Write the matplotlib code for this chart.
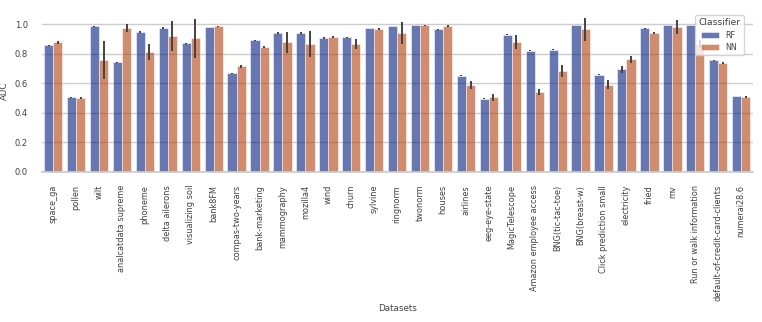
import matplotlib
matplotlib.use("Agg")
import matplotlib.pyplot as plt
import seaborn as sns
import numpy as np

# Datasets y AUC medio por clasificador
datasets = ["space_ga", "pollen", "wilt", "analcatdata supreme", "phoneme",
            "delta ailerons", "visualizing soil", "bank8FM", "compas-two-years",
            "bank-marketing", "mammography", "mozilla4", "wind", "churn", "sylvine",
            "ringnorm", "twonorm", "houses", "airlines", "eeg-eye-state",
            "MagicTelescope", "Amazon employee access", "BNG(tic-tac-toe)",
            "BNG(breast-w)", "Click prediction small", "electricity", "fried", "mv",
            "Run or walk information", "default-of-credit-card-clients", "numerai28.6"]

rf_auc = [0.858, 0.505, 0.986, 0.742, 0.948, 0.975, 0.871, 0.982, 0.667, 0.892,
          0.939, 0.941, 0.909, 0.912, 0.975, 0.988, 0.995, 0.966, 0.651, 0.495,
          0.929, 0.821, 0.828, 0.995, 0.658, 0.695, 0.973, 0.995, 0.995, 0.756, 0.514]
rf_err = [0.004, 0.004, 0.004, 0.004, 0.004, 0.004, 0.005, 0.002, 0.005, 0.004,
          0.006, 0.006, 0.008, 0.004, 0.003, 0.002, 0.002, 0.002, 0.004, 0.004,
          0.002, 0.003, 0.002, 0.002, 0.004, 0.022, 0.003, 0.002, 0.002, 0.004, 0.003]

nn_auc = [0.878, 0.498, 0.758, 0.977, 0.814, 0.921, 0.905, 0.986, 0.717, 0.846,
          0.878, 0.864, 0.914, 0.866, 0.968, 0.943, 0.993, 0.986, 0.586, 0.505,
          0.880, 0.541, 0.683, 0.966, 0.590, 0.763, 0.941, 0.980, 0.866, 0.737, 0.509]
nn_err = [0.012, 0.006, 0.131, 0.027, 0.054, 0.099, 0.133, 0.005, 0.010, 0.008,
          0.072, 0.089, 0.010, 0.032, 0.005, 0.075, 0.004, 0.007, 0.027, 0.023,
          0.046, 0.022, 0.042, 0.080, 0.030, 0.025, 0.008, 0.048, 0.030, 0.008, 0.006]

sns.set_theme(style="whitegrid")
pal = sns.color_palette("dark", 2)

fig = plt.figure(figsize=(7.62, 3.22), dpi=100)
ax = fig.add_axes([0.0547, 0.4668, 0.9330, 0.5034])

x = np.arange(len(datasets))
w = 0.4
ax.bar(x - w / 2, rf_auc, width=w, color=pal[0], alpha=0.6, edgecolor="w",
       linewidth=0.6, label="RF")
ax.bar(x + w / 2, nn_auc, width=w, color=pal[1], alpha=0.6, edgecolor="w",
       linewidth=0.6, label="NN")
ax.errorbar(x - w / 2, rf_auc, yerr=rf_err, fmt="none", ecolor=".26", elinewidth=1.4)
ax.errorbar(x + w / 2, nn_auc, yerr=nn_err, fmt="none", ecolor=".26", elinewidth=1.4)

ax.set_xlim(-0.5, len(datasets) - 0.5)
ax.set_ylim(0, 1.1)
ax.set_yticks([0.0, 0.2, 0.4, 0.6, 0.8, 1.0])
ax.set_xticks(x)
ax.set_xticklabels(datasets, rotation=90)
ax.grid(False, axis="x")
ax.tick_params(axis="x", labelsize=5.9, pad=3.5, colors=".25")
ax.tick_params(axis="y", labelsize=6.0, pad=4, colors=".25")
ax.set_xlabel("Datasets", fontsize=6.3, labelpad=2, color=".25")
ax.set_ylabel("AUC", fontsize=6.3, labelpad=4, color=".25")
sns.despine(ax=ax, left=True)

leg = ax.legend(title="Classifier", loc="upper right", bbox_to_anchor=(0.993, 0.99),
                fontsize=5.8, title_fontsize=6.6, frameon=True,
                handlelength=2.2, borderpad=0.4, labelspacing=0.4)
plt.setp(leg.get_texts(), color=".25")
leg.get_title().set_color(".25")

fig.savefig("out.png", dpi=100)
